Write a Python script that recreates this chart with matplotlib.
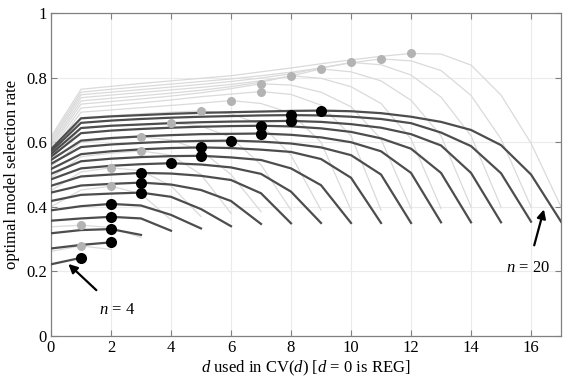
import matplotlib
matplotlib.use("Agg")
import matplotlib.pyplot as plt
import numpy as np

plt.rcParams['font.family'] = ['Liberation Serif', 'DejaVu Serif']
plt.rcParams['mathtext.fontset'] = 'custom'
plt.rcParams['mathtext.rm'] = 'Liberation Serif'
plt.rcParams['mathtext.it'] = 'Liberation Serif:italic'

# selection rate vs d, one list per sample size n (d = 0 .. n-3)
n_values = list(range(4, 21))
dark_rates = [
    [0.222, 0.242],
    [0.271, 0.282, 0.290],
    [0.318, 0.328, 0.331, 0.313],
    [0.357, 0.364, 0.369, 0.364, 0.326],
    [0.389, 0.402, 0.409, 0.404, 0.375, 0.333],
    [0.418, 0.437, 0.441, 0.444, 0.431, 0.393, 0.340],
    [0.444, 0.466, 0.471, 0.475, 0.469, 0.452, 0.418, 0.347],
    [0.465, 0.494, 0.500, 0.505, 0.503, 0.496, 0.483, 0.442, 0.349],
    [0.485, 0.519, 0.527, 0.532, 0.535, 0.531, 0.522, 0.502, 0.447, 0.350],
    [0.502, 0.541, 0.549, 0.554, 0.557, 0.558, 0.553, 0.545, 0.519, 0.467, 0.350],
    [0.517, 0.563, 0.572, 0.578, 0.582, 0.584, 0.582, 0.577, 0.570, 0.548, 0.490, 0.350],
    [0.533, 0.585, 0.593, 0.598, 0.602, 0.604, 0.605, 0.602, 0.596, 0.584, 0.560, 0.500, 0.350],
    [0.545, 0.605, 0.613, 0.618, 0.622, 0.625, 0.626, 0.627, 0.623, 0.615, 0.600, 0.572, 0.505, 0.352],
    [0.555, 0.628, 0.636, 0.641, 0.645, 0.648, 0.650, 0.651, 0.649, 0.643, 0.632, 0.612, 0.580, 0.505, 0.352],
    [0.563, 0.644, 0.651, 0.655, 0.659, 0.662, 0.664, 0.665, 0.666, 0.663, 0.656, 0.645, 0.625, 0.590, 0.505, 0.352],
    [0.571, 0.660, 0.667, 0.672, 0.676, 0.679, 0.681, 0.683, 0.684, 0.683, 0.679, 0.672, 0.659, 0.630, 0.588, 0.504, 0.354],
    [0.578, 0.674, 0.680, 0.684, 0.688, 0.691, 0.693, 0.695, 0.697, 0.698, 0.696, 0.690, 0.679, 0.663, 0.638, 0.591, 0.500, 0.354],
]

# light family, n = 5 .. 20
light_rates = [
    [0.262, 0.279, 0.268],
    [0.338, 0.343, 0.336, 0.305],
    [0.400, 0.452, 0.464, 0.440, 0.360],
    [0.450, 0.508, 0.521, 0.512, 0.465, 0.370],
    [0.490, 0.555, 0.566, 0.573, 0.560, 0.500, 0.380],
    [0.525, 0.600, 0.610, 0.617, 0.607, 0.575, 0.500, 0.385],
    [0.545, 0.643, 0.650, 0.655, 0.660, 0.650, 0.615, 0.530, 0.390],
    [0.558, 0.676, 0.682, 0.688, 0.693, 0.697, 0.688, 0.655, 0.560, 0.390],
    [0.567, 0.693, 0.700, 0.707, 0.714, 0.721, 0.729, 0.720, 0.690, 0.600, 0.390],
    [0.575, 0.706, 0.714, 0.722, 0.731, 0.741, 0.749, 0.757, 0.748, 0.715, 0.620, 0.390],
    [0.583, 0.718, 0.726, 0.734, 0.743, 0.753, 0.766, 0.781, 0.777, 0.755, 0.710, 0.610, 0.395],
    [0.590, 0.728, 0.736, 0.744, 0.752, 0.761, 0.772, 0.786, 0.806, 0.798, 0.772, 0.720, 0.610, 0.395],
    [0.597, 0.738, 0.746, 0.754, 0.762, 0.770, 0.779, 0.790, 0.805, 0.827, 0.818, 0.790, 0.730, 0.620, 0.400],
    [0.603, 0.747, 0.755, 0.763, 0.771, 0.779, 0.788, 0.799, 0.812, 0.830, 0.847, 0.840, 0.808, 0.740, 0.620, 0.400],
    [0.610, 0.755, 0.764, 0.772, 0.780, 0.788, 0.796, 0.806, 0.817, 0.830, 0.846, 0.858, 0.852, 0.822, 0.745, 0.610, 0.400],
    [0.617, 0.764, 0.773, 0.782, 0.790, 0.798, 0.806, 0.818, 0.830, 0.843, 0.855, 0.866, 0.875, 0.873, 0.839, 0.746, 0.597, 0.400],
]

fig = plt.figure(figsize=(5.69, 3.9), dpi=100)
ax = fig.add_axes([0.0896, 0.1385, 0.8964, 0.828])

for r in light_rates:
    d = np.arange(len(r))
    ax.plot(d, r, color='#dadada', lw=0.9, zorder=2)
for r in dark_rates:
    d = np.arange(len(r))
    ax.plot(d, r, color='#4d4d4d', lw=1.6, zorder=3)
for r in light_rates:
    i = int(np.argmax(r))
    ax.plot(i, r[i], 'o', color='#b3b3b3', ms=6.5, mec='none', zorder=4)
for r in dark_rates:
    i = int(np.argmax(r))
    ax.plot(i, r[i], 'o', color='black', ms=8, mec='none', zorder=5)

ax.set_xlim(0, 17)
ax.set_ylim(0, 1)
ax.set_xticks(range(0, 17, 2))
ax.set_yticks([0, 0.2, 0.4, 0.6, 0.8, 1])
ax.set_yticklabels(['0', '0.2', '0.4', '0.6', '0.8', '1'])
ax.grid(True, color='#ebebeb', lw=0.8)
ax.set_axisbelow(True)
ax.tick_params(direction='in', top=True, right=True, length=4, width=0.8,
               color='#808080', labelsize=12, pad=3)
for s in ax.spines.values():
    s.set_color('#808080')
    s.set_linewidth(0.9)

ax.set_xlabel('$d$ used in CV($d$) [$d$ = 0 is REG]', fontsize=12, labelpad=2)
ax.set_ylabel('optimal model selection rate', fontsize=12, labelpad=4)

ax.annotate('$n$ = 4', xy=(0.58, 0.223), xytext=(2.2, 0.082), fontsize=12,
            ha='center', va='center', zorder=6,
            arrowprops=dict(arrowstyle='-|>', color='black', lw=1.6,
                            mutation_scale=13, shrinkA=9, shrinkB=0))
ax.annotate('$n$ = 20', xy=(16.43, 0.392), xytext=(15.9, 0.21), fontsize=12,
            ha='center', va='center', zorder=6,
            arrowprops=dict(arrowstyle='-|>', color='black', lw=1.6,
                            mutation_scale=13, shrinkA=9, shrinkB=0))

fig.savefig('out.png', dpi=100)
